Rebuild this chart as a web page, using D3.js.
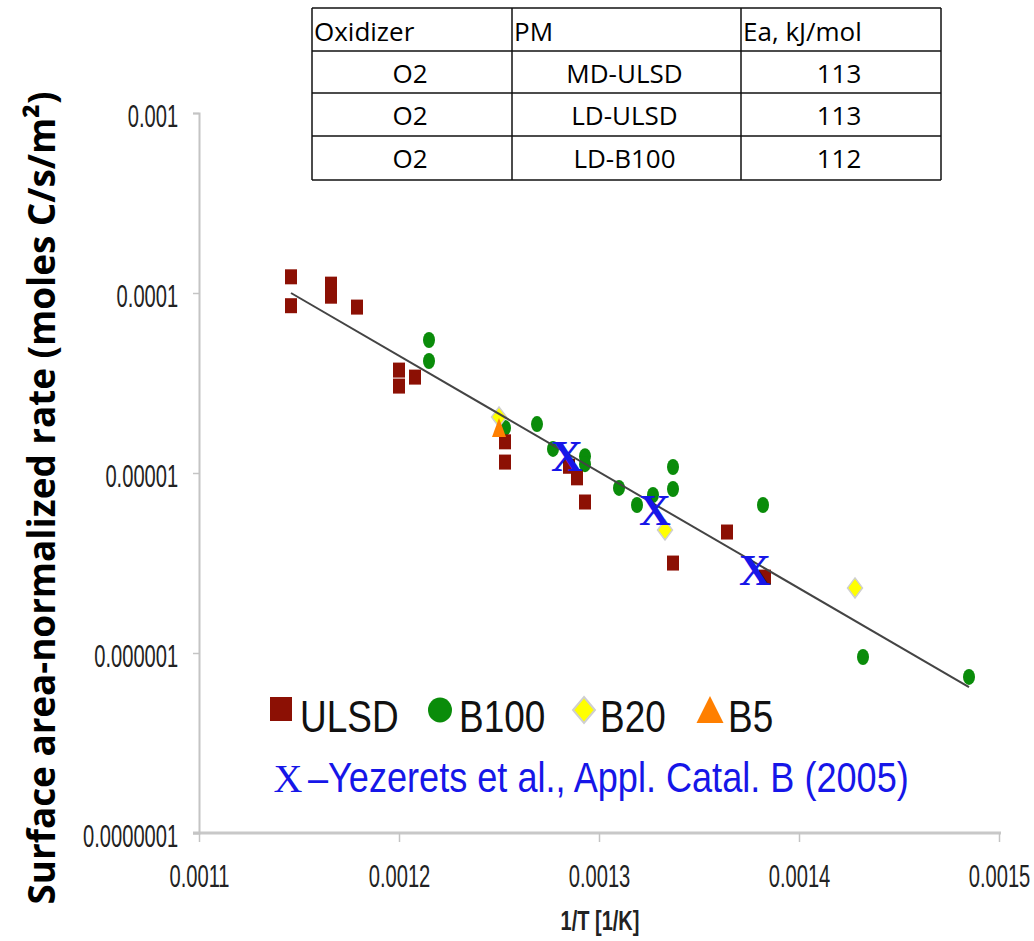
<!doctype html>
<html>
<head>
<meta charset="utf-8">
<title>Surface area-normalized rate vs 1/T</title>
<script src="https://d3js.org/d3.v7.min.js"></script>
<style>
  body { margin: 0; background: #fff; }
  .axis path, .axis line { fill: none; stroke: #c4c4c4; }
  .axis text { font-family: "Liberation Sans", Arial, sans-serif; font-size: 31px; fill: #222; }
  .tbl text { font-family: "Open Sans", sans-serif; font-size: 26px; fill: #000; }
</style>
</head>
<body>
<div id="chart"></div>
<script>
// axis ticks
var xTicks = [0.0011, 0.0012, 0.0013, 0.0014, 0.0015];
var yTicks = [1e-7, 1e-6, 1e-5, 1e-4, 1e-3];
var yTickLabels = ["0.0000001", "0.000001", "0.00001", "0.0001", "0.001"];

// [1/T, rate]
var ulsd = [
  [0.001146, 1.23e-4], [0.001146, 8.5e-5], [0.001166, 1.12e-4], [0.001166, 9.6e-5],
  [0.001179, 8.35e-5], [0.0012, 3.73e-5], [0.0012, 3.04e-5], [0.001208, 3.41e-5],
  [0.001253, 1.49e-5], [0.001253, 1.15e-5], [0.001285, 1.09e-5], [0.001289, 9.4e-6],
  [0.001293, 6.9e-6], [0.001337, 3.16e-6], [0.001364, 4.7e-6], [0.001383, 2.64e-6]
];
var b100 = [
  [0.001215, 5.48e-5], [0.001215, 4.19e-5], [0.001253, 1.78e-5], [0.001269, 1.87e-5],
  [0.001277, 1.36e-5], [0.001293, 1.24e-5], [0.001293, 1.12e-5], [0.00131, 8.26e-6],
  [0.001319, 6.64e-6], [0.001327, 7.55e-6], [0.001337, 1.08e-5], [0.001337, 8.15e-6],
  [0.001382, 6.64e-6], [0.001432, 9.5e-7], [0.001485, 7.36e-7]
];
var b20 = [[0.00125, 2.05e-5], [0.001333, 4.82e-6], [0.001428, 2.3e-6]];
var b5 = [[0.00125, 1.78e-5]];
var yezerets = [[0.001284, 1.23e-5], [0.001328, 6.22e-6], [0.001378, 2.89e-6]];
var fitLine = [[0.001146, 1.0e-4], [0.001485, 6.47e-7]];

var legendNames = ["ULSD", "B100", "B20", "B5"];
var refText = "\u2013Yezerets et al., Appl. Catal. B (2005)";

var tableHeader = ["Oxidizer", "PM", "Ea, kJ/mol"];
var tableRows = [
  ["O2", "MD-ULSD", "113"],
  ["O2", "LD-ULSD", "113"],
  ["O2", "LD-B100", "112"]
];

var colors = {ULSD: "#8c1004", B100: "#0a8c0a", B20: "#ffff00", B5: "#ff7f00", X: "#1616e8"};

var margin = {top: 113, left: 199},
    width = 800,
    height = 720;

var svg = d3.select("#chart").append("svg")
  .attr("width", 1034)
  .attr("height", 941);

var g = svg.append("g")
  .attr("transform", "translate(" + margin.left + "," + margin.top + ")");

var x = d3.scaleLinear().domain([0.0011, 0.0015]).range([0, width]);
var y = d3.scaleLog().domain([1e-7, 1e-3]).range([height, 0]);

// x axis
var xAxis = g.append("g")
  .attr("class", "axis")
  .attr("transform", "translate(0," + height + ")")
  .call(d3.axisBottom(x).tickValues(xTicks).tickFormat(d3.format(".4f")).tickSizeOuter(0).tickSize(9));
xAxis.select(".domain").attr("d", "M-6,0H" + (width + 2)).style("stroke-width", 3).style("stroke", "#c8c8c8");
xAxis.selectAll("line").style("stroke-width", 1.5);
xAxis.selectAll("text")
  .attr("y", 54).attr("dy", 0)
  .attr("transform", "scale(0.65,1)");

// y axis
var yAxis = g.append("g")
  .attr("class", "axis")
  .call(d3.axisLeft(y).tickValues(yTicks).tickFormat(function(d, i){ return yTickLabels[i]; }).tickSizeOuter(0).tickSize(6));
yAxis.select(".domain").style("stroke-width", 2);
yAxis.selectAll("line").style("stroke-width", 1.5);
yAxis.selectAll("text")
  .attr("x", -32).attr("dy", "0.42em")
  .attr("transform", "scale(0.65,1)");

// axis titles
svg.append("text")
  .attr("transform", "translate(600,930) scale(0.74,1)")
  .style("text-anchor", "middle")
  .style("font-family", "'Liberation Sans', Arial, sans-serif")
  .style("font-weight", "bold")
  .style("font-size", "27px")
  .style("fill", "#222")
  .text("1/T [1/K]");

svg.append("text")
  .attr("transform", "translate(55,498) rotate(-90)")
  .style("text-anchor", "middle")
  .style("font-family", "'Open Sans', sans-serif")
  .style("font-weight", "bold")
  .style("font-size", "38px")
  .attr("textLength", 813)
  .attr("lengthAdjust", "spacingAndGlyphs")
  .text("Surface area-normalized rate (moles C/s/m\u00b2)");

// data marks
var marks = g.append("g");

marks.selectAll(".b100")
  .data(b100).enter().append("ellipse")
    .attr("class", "b100")
    .attr("cx", function(d){ return x(d[0]); })
    .attr("cy", function(d){ return y(d[1]); })
    .attr("rx", 6).attr("ry", 8)
    .style("fill", colors.B100);

marks.selectAll(".ulsd")
  .data(ulsd).enter().append("rect")
    .attr("class", "ulsd")
    .attr("x", function(d){ return x(d[0]) - 6; })
    .attr("y", function(d){ return y(d[1]) - 7.5; })
    .attr("width", 12).attr("height", 15)
    .style("fill", colors.ULSD);

marks.selectAll(".b20")
  .data(b20).enter().append("path")
    .attr("class", "b20")
    .attr("transform", function(d){ return "translate(" + x(d[0]) + "," + y(d[1]) + ")"; })
    .attr("d", "M0,-10L7.5,0L0,10L-7.5,0Z")
    .style("fill", colors.B20)
    .style("stroke", "#cfcfcf")
    .style("stroke-width", 1.5);

marks.selectAll(".b5")
  .data(b5).enter().append("path")
    .attr("class", "b5")
    .attr("transform", function(d){ return "translate(" + x(d[0]) + "," + y(d[1]) + ")"; })
    .attr("d", "M0,-10L7,9L-7,9Z")
    .style("fill", colors.B5);

// fit line
g.append("path")
  .datum(fitLine)
  .attr("d", d3.line().x(function(d){ return x(d[0]); }).y(function(d){ return y(d[1]); }))
  .style("fill", "none")
  .style("stroke", "#444")
  .style("stroke-width", 2);

// Yezerets et al. points
g.selectAll(".yez")
  .data(yezerets).enter().append("text")
    .attr("class", "yez")
    .attr("x", function(d){ return x(d[0]); })
    .attr("y", function(d){ return y(d[1]); })
    .attr("dy", "0.33em")
    .style("text-anchor", "middle")
    .style("font-family", "'Liberation Serif', 'Times New Roman', serif")
    .style("font-weight", "bold")
    .style("font-size", "44px")
    .style("fill", colors.X)
    .text("X");

// legend
var legendX = [270, 428, 572, 697];
var legend = svg.append("g");
legend.append("rect").attr("x", legendX[0]).attr("y", 697).attr("width", 22).attr("height", 24).style("fill", colors.ULSD);
legend.append("ellipse").attr("cx", legendX[1] + 12).attr("cy", 710).attr("rx", 12).attr("ry", 12.5).style("fill", colors.B100);
legend.append("path").attr("transform", "translate(" + (legendX[2] + 12) + ",710)")
  .attr("d", "M0,-13L11,0L0,13L-11,0Z").style("fill", colors.B20).style("stroke", "#cfcfcf").style("stroke-width", 2);
legend.append("path").attr("transform", "translate(" + (legendX[3] + 13) + ",710)")
  .attr("d", "M0,-14L13.5,13L-13.5,13Z").style("fill", colors.B5);

var legendTextX = [300, 459, 600, 728];
legend.selectAll(".lt")
  .data(legendNames).enter().append("text")
    .attr("class", "lt")
    .attr("transform", function(d, i){ return "translate(" + legendTextX[i] + ",732) scale(0.84,1)"; })
    .style("font-family", "'Liberation Sans', Arial, sans-serif")
    .style("font-size", "44px")
    .style("fill", "#111")
    .text(function(d){ return d; });

svg.append("text")
  .attr("x", 288).attr("y", 792)
  .style("text-anchor", "middle")
  .style("font-family", "'Liberation Serif', 'Times New Roman', serif")
  .style("font-size", "40px")
  .style("fill", colors.X)
  .text("X");
svg.append("text")
  .attr("transform", "translate(308,792) scale(0.86,1)")
  .style("font-family", "'Liberation Sans', Arial, sans-serif")
  .style("font-size", "42px")
  .style("fill", colors.X)
  .text(refText);

// table
var colEdges = [312, 512, 741, 941],
    rowEdges = [8, 51, 93, 136, 180];
var tbl = svg.append("g").attr("class", "tbl");

rowEdges.forEach(function(r){
  tbl.append("line").attr("x1", colEdges[0]).attr("x2", colEdges[3]).attr("y1", r).attr("y2", r)
    .style("stroke", "#111").style("stroke-width", 1.5);
});
colEdges.forEach(function(c){
  tbl.append("line").attr("x1", c).attr("x2", c).attr("y1", rowEdges[0]).attr("y2", rowEdges[4])
    .style("stroke", "#111").style("stroke-width", 1.5);
});

tbl.selectAll(".th")
  .data(tableHeader).enter().append("text")
    .attr("class", "th")
    .attr("x", function(d, i){ return colEdges[i] + 2; })
    .attr("y", rowEdges[0] + 33)
    .text(function(d){ return d; });

tableRows.forEach(function(row, r){
  tbl.selectAll(".td" + r)
    .data(row).enter().append("text")
      .attr("class", "td" + r)
      .attr("x", function(d, i){ return (colEdges[i] + colEdges[i + 1]) / 2 - 2; })
      .attr("y", rowEdges[r + 1] + 32)
      .style("text-anchor", "middle")
      .text(function(d){ return d; });
});
</script>
</body>
</html>
